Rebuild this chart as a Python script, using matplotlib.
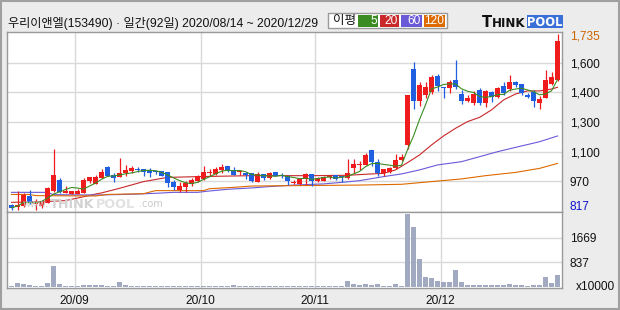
import numpy as np
import pandas as pd
import matplotlib
matplotlib.use('Agg')
import matplotlib.pyplot as plt
from matplotlib.patches import Rectangle
from matplotlib.transforms import blended_transform_factory, offset_copy

plt.rcParams['font.family'] = ['Liberation Sans', 'Noto Sans CJK KR']

# ---------------- data ----------------
title = "우리이앤엘(153490) · 일간(92일) 2020/08/14 ~ 2020/12/29"

opens = np.array([845, 831, 840, 892, 848, 840, 855, 916, 973, 906,
                  902, 902, 907, 970, 953, 986, 1043, 1000, 991, 1008,
                  1020, 1031, 1029, 1026, 1019, 1019, 1015, 963, 921, 937,
                  951, 968, 980, 1010, 1005, 1026, 1046, 1026, 1015, 1012,
                  1008, 965, 1005, 982, 1013, 1000, 996, 960, 953, 979,
                  1005, 970, 970, 989, 998, 993, 986, 1038, 1053, 1053,
                  1130, 1067, 1008, 1013, 1038, 1080, 1156, 1552, 1387, 1417,
                  1434, 1516, 1459, 1452, 1495, 1422, 1387, 1377, 1443, 1377,
                  1433, 1408, 1464, 1446, 1483, 1472, 1417, 1433, 1377, 1403,
                  1474, 1495])
highs = np.array([848, 916, 904, 921, 873, 869, 939, 1135, 984, 942,
                  916, 928, 984, 991, 1001, 1029, 1046, 1008, 1090, 1052,
                  1046, 1041, 1031, 1038, 1026, 1021, 1017, 973, 965, 968,
                  982, 1001, 1046, 1029, 1043, 1057, 1048, 1040, 1026, 1014,
                  1010, 1014, 1007, 1017, 1015, 1008, 998, 973, 981, 1012,
                  1007, 991, 993, 1000, 1001, 996, 1083, 1081, 1073, 1113,
                  1132, 1085, 1033, 1043, 1109, 1109, 1419, 1589, 1486, 1486,
                  1521, 1525, 1461, 1495, 1599, 1443, 1417, 1438, 1455, 1441,
                  1438, 1460, 1485, 1521, 1492, 1475, 1429, 1443, 1412, 1547,
                  1535, 1735])
lows = np.array([817, 819, 834, 848, 817, 826, 852, 913, 904, 904,
                 900, 900, 905, 960, 951, 984, 992, 965, 989, 996,
                 1012, 1017, 996, 991, 1005, 994, 935, 921, 913, 913,
                 944, 965, 973, 996, 1000, 1008, 1017, 998, 1000, 980,
                 965, 963, 973, 980, 992, 982, 947, 951, 947, 947,
                 942, 965, 968, 979, 973, 965, 977, 1012, 1026, 1051,
                 1047, 994, 994, 1008, 1029, 1074, 1133, 1346, 1359, 1400,
                 1422, 1438, 1400, 1426, 1450, 1370, 1382, 1365, 1365, 1353,
                 1382, 1400, 1417, 1439, 1460, 1417, 1400, 1356, 1344, 1400,
                 1469, 1490])
closes = np.array([829, 845, 895, 852, 855, 860, 933, 1000, 909, 916,
                   914, 918, 973, 989, 991, 1015, 994, 986, 1008, 1026,
                   1038, 1027, 1017, 1012, 1015, 996, 960, 939, 944, 956,
                   973, 994, 1015, 1013, 1031, 1043, 1022, 1000, 1019, 1000,
                   970, 1005, 986, 1010, 994, 996, 970, 963, 979, 1005,
                   970, 986, 991, 993, 979, 989, 1008, 1057, 1057, 1104,
                   1069, 1012, 1031, 1038, 1078, 1093, 1417, 1387, 1469, 1459,
                   1512, 1464, 1455, 1483, 1457, 1387, 1401, 1422, 1377, 1436,
                   1408, 1452, 1427, 1483, 1469, 1429, 1408, 1387, 1396, 1493,
                   1509, 1699])
volumes = np.array([30, 150, 110, 70, 35, 35, 150, 725, 110, 35,
                    35, 35, 70, 70, 70, 70, 40, 40, 170, 70,
                    35, 35, 35, 35, 35, 35, 35, 35, 35, 35,
                    35, 35, 35, 35, 35, 35, 35, 70, 35, 35,
                    35, 35, 35, 35, 35, 35, 35, 35, 35, 35,
                    35, 35, 35, 35, 35, 35, 215, 102, 68, 102,
                    68, 102, 34, 34, 102, 34, 2481, 2051, 952, 351,
                    306, 215, 181, 181, 578, 181, 68, 68, 68, 68,
                    68, 68, 68, 102, 68, 68, 34, 68, 68, 329,
                    147, 408])  # x10000

# moving averages (day index, value)
ma20_idx = [0, 5, 9, 12, 14, 15, 18, 22, 26, 31, 40, 50, 56, 60, 62, 64, 66, 68, 70,
            72, 74, 76, 78, 80, 82, 84, 86, 88, 90, 91]
ma20_val = [857, 860, 866, 886, 900, 906, 930, 965, 987, 991, 996, 996, 998, 1005, 1008,
            1026, 1064, 1104, 1156, 1203, 1243, 1278, 1300, 1339, 1391, 1422, 1438,
            1438, 1448, 1457]
ma60_idx = [0, 6, 7, 14, 20, 24, 27, 31, 33, 36, 40, 43, 47, 52, 55, 58, 62, 65, 68,
            71, 75, 78, 81, 85, 88, 91]
ma60_val = [909, 909, 897, 895, 899, 904, 909, 909, 916, 925, 932, 939, 947, 953, 961,
            970, 991, 1005, 1026, 1052, 1069, 1095, 1121, 1151, 1173, 1203]
ma120_idx = [0, 3, 4, 14, 16, 22, 24, 32, 33, 37, 40, 58, 65, 70, 75, 79, 84, 88, 91]
ma120_val = [898, 898, 892, 890, 898, 902, 918, 918, 928, 935, 942, 947, 951, 965,
             979, 996, 1013, 1034, 1060]

month_start_idx = [11, 32, 51, 72]
month_labels = ['20/09', '20/10', '20/11', '20/12']

price_tick_vals = [1584, 1430, 1276, 1119, 968]      # where the gridlines sit
price_tick_labels = ['1,600', '1,400', '1,300', '1,100', '970']
vol_tick_vals = [1669, 837]
vol_tick_labels = ['1669', '837']

legend_items = ['5', '20', '60', '120']

# ---------------- style ----------------
RED = '#ee1c1c'
BLUE = '#1f5fe0'
C_MA5 = '#3a8c22'
C_MA20 = '#c8282a'
C_MA60 = '#6a5ad8'
C_MA120 = '#dd6a00'
VOLC = '#a2aac2'
GRID = '#d9d9d9'
SPINE = '#9a9a9a'
FS = 8.6

W, H = 620, 310
fig = plt.figure(figsize=(6.2, 3.1), dpi=100, facecolor='#ececec')


def fx(px):
    return px / W


def fy(py):
    return 1 - py / H


def prect(x0, y0, x1, y1, **kw):
    r = Rectangle((fx(x0), fy(y1)), (x1 - x0) / W, (y1 - y0) / H,
                  transform=fig.transFigure, **kw)
    fig.add_artist(r)
    return r


# outer frame
fig.add_artist(Rectangle((0.001, 0.002), 0.997, 0.995, transform=fig.transFigure,
                         fill=False, edgecolor='#a0a0a0', lw=1.5))

ax = fig.add_axes([fx(7), fy(212), (562 - 7) / W, (212 - 32) / H])
axv = fig.add_axes([fx(7), fy(288), (562 - 7) / W, (288 - 212) / H])

n = len(closes)
idx = np.arange(n)
xlim = (-0.75, n - 0.25)

# ---------------- price panel ----------------
up = closes >= opens
cols = np.where(up, RED, BLUE)
ax.vlines(idx, lows, highs, colors=cols, lw=0.9, zorder=3)
body_bottom = np.minimum(opens, closes)
body_h = np.maximum(np.abs(closes - opens), 5)
ax.bar(idx, body_h, bottom=body_bottom, width=0.82, color=cols, linewidth=0, zorder=4)

ma5 = pd.Series(closes).rolling(5, min_periods=1).mean().values
ax.plot(ma20_idx, ma20_val, color=C_MA20, lw=0.8, zorder=2)
ax.plot(ma60_idx, ma60_val, color=C_MA60, lw=0.8, zorder=2)
ax.plot(ma120_idx, ma120_val, color=C_MA120, lw=0.8, zorder=2)
ax.plot(idx, ma5, color=C_MA5, lw=0.8, zorder=5)

ax.set_xlim(*xlim)
ax.set_ylim(806.5, 1745.4)
ax.set_yticks(price_tick_vals)
ax.set_yticklabels(price_tick_labels)
ax.yaxis.set_tick_params(labelright=True, labelleft=False, pad=5.5, length=0,
                         labelsize=FS, labelcolor='#111111')
ax.set_xticks([m - 0.5 for m in month_start_idx])
ax.xaxis.set_tick_params(labelbottom=False, length=0)
ax.grid(True, color=GRID, lw=1.0, zorder=0)
ax.set_axisbelow(True)
for s in ax.spines.values():
    s.set_color(SPINE)
    s.set_linewidth(1.0)

# max / min labels
btr = blended_transform_factory(fig.transFigure, ax.transData)
ax.text(fx(570), highs.max(), f"{highs.max():,}", transform=offset_copy(btr, fig=fig, y=-3, units='dots'),
        ha='left', va='center', fontsize=FS, color='#cc6600')
ax.text(fx(570), lows.min(), f"{lows.min():,}", transform=offset_copy(btr, fig=fig, y=3, units='dots'),
        ha='left', va='center', fontsize=FS, color='#1010cc')

# watermark
wm_y = fy(204)
fig.text(fx(23), wm_y, 'www.', fontsize=7, color='#cacaca', va='center', ha='left',
         family='DejaVu Sans', zorder=1)
fig.text(fx(50), wm_y, 'THINK', fontsize=9.2, color='#d2d2d2', va='center', ha='left',
         family='DejaVu Sans', weight='bold', zorder=1)
fig.text(fx(96), wm_y, 'POOL', fontsize=9.2, color='#e2e2e2', va='center', ha='left',
         family='DejaVu Sans', weight='bold', zorder=1)
fig.text(fx(139), wm_y, '.com', fontsize=7, color='#cacaca', va='center', ha='left',
         family='DejaVu Sans', zorder=1)

# ---------------- volume panel ----------------
axv.bar(idx, volumes, width=0.82, color=VOLC, linewidth=0, zorder=3)
axv.set_xlim(*xlim)
axv.set_ylim(-34, 2550)
axv.set_yticks(vol_tick_vals)
axv.set_yticklabels(vol_tick_labels)
axv.yaxis.set_tick_params(labelright=True, labelleft=False, pad=5.5, length=0,
                          labelsize=FS, labelcolor='#111111')
axv.set_xticks([m - 0.5 for m in month_start_idx])
axv.set_xticklabels(month_labels)
axv.xaxis.set_tick_params(length=0, pad=5, labelsize=FS, labelcolor='#111111')
axv.grid(True, color=GRID, lw=1.0, zorder=0)
axv.set_axisbelow(True)
for s in axv.spines.values():
    s.set_color(SPINE)
    s.set_linewidth(1.0)
fig.text(fx(576), fy(287), 'x10000', fontsize=FS, color='#111111', ha='left', va='center')

# ---------------- header ----------------
fig.text(fx(8), fy(23), title, fontsize=8.75, color='#111111', ha='left', va='center')

# legend box
prect(328, 13, 447, 28, facecolor='white', edgecolor='#9a9a9a', lw=1.0)
fig.text(fx(333), fy(21), '이평', fontsize=9, color='#111111', ha='left', va='center')
box_x = [(358, 378), (380, 399), (401, 422), (424, 445)]
box_c = [C_MA5, C_MA20, C_MA60, C_MA120]
for (x0, x1), c, lab in zip(box_x, box_c, legend_items):
    prect(x0, 15, x1, 27, facecolor=c, edgecolor='none')
    fig.text(fx(x1 - 1), fy(21), lab, fontsize=FS, color='white', ha='right', va='center')

# THINKPOOL logo
fig.text(fx(482), fy(22.5), 'T', fontsize=10.5, color='#111111', weight='bold',
         family='DejaVu Sans', ha='left', va='center')
fig.text(fx(492), fy(23.5), 'HINK', fontsize=8.6, color='#111111', weight='bold',
         family='DejaVu Sans', ha='left', va='center')
prect(527, 15, 563, 28, facecolor='#3a6fd8', edgecolor='none')
fig.text(fx(545), fy(22), 'POOL', fontsize=8.3, color='white', weight='bold',
         family='DejaVu Sans', ha='center', va='center')

fig.savefig('out.png', dpi=100, facecolor=fig.get_facecolor())
